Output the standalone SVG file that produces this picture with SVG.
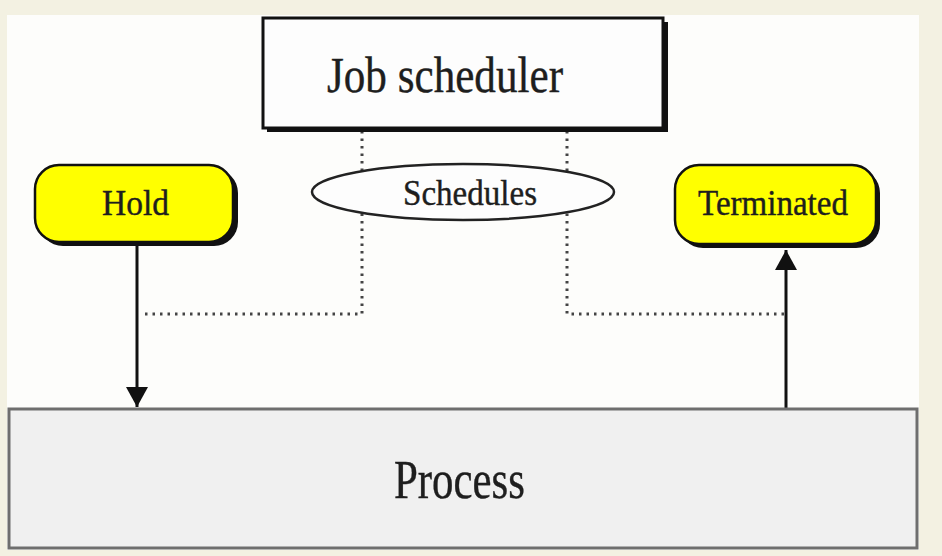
<svg xmlns="http://www.w3.org/2000/svg" width="942" height="556" viewBox="0 0 942 556">
  <defs>
    <marker id="arrow" viewBox="0 0 20 22" refX="20" refY="11" markerWidth="20" markerHeight="22" markerUnits="userSpaceOnUse" orient="auto">
      <path d="M0,0 L20,11 L0,22 Z" fill="#111"/>
    </marker>
  </defs>
  <style>
    .lbl { font-family: "Liberation Serif", "Times New Roman", serif; fill: #1e1e1e; stroke: #1e1e1e; stroke-width: 0.4; text-anchor: start; }
    .shadow { fill: #111; }
    .state { fill: #ffff00; stroke: #111; stroke-width: 2.5; }
    .dots { fill: none; stroke: #444; stroke-width: 3; stroke-dasharray: 2.5 5; }
    .flow { fill: none; stroke: #111; stroke-width: 3; marker-end: url(#arrow); }
  </style>

  <!-- page background and white panel -->
  <rect x="0" y="0" width="942" height="556" fill="#f3f1e2"/>
  <rect x="7" y="15" width="912" height="535" fill="#fdfdfb"/>

  <!-- dotted scheduling lines and state arrows -->
  <g id="connectors">
    <polyline class="dots" points="362,131 362,314 143,314"/>
    <polyline class="dots" points="567,131 567,314 786,314"/>
    <line class="flow" x1="137" y1="246" x2="137" y2="407"/>
    <line class="flow" x1="786" y1="409" x2="786" y2="250"/>
  </g>

  <g id="job-scheduler">
    <rect class="shadow" x="267" y="22" width="401" height="110"/>
    <rect x="263" y="18" width="400" height="110" fill="#fdfdfd" stroke="#111" stroke-width="3"/>
    <text class="lbl" x="327" y="92" font-size="51" textLength="236" lengthAdjust="spacingAndGlyphs">Job scheduler</text>
  </g>

  <g id="schedules">
    <ellipse cx="463" cy="192" rx="151" ry="28" fill="#fdfdfd" stroke="#222" stroke-width="2.5"/>
    <text class="lbl" x="403" y="205" font-size="36" textLength="134" lengthAdjust="spacingAndGlyphs">Schedules</text>
  </g>

  <g id="hold">
    <rect class="shadow" x="39" y="169" width="199" height="77" rx="24"/>
    <rect class="state" x="35" y="165" width="198" height="77" rx="24"/>
    <text class="lbl" x="102" y="215" font-size="36" textLength="67" lengthAdjust="spacingAndGlyphs">Hold</text>
  </g>

  <g id="terminated">
    <rect class="shadow" x="679" y="169" width="201" height="79" rx="24"/>
    <rect class="state" x="675" y="165" width="201" height="79" rx="24"/>
    <text class="lbl" x="698" y="215" font-size="35" textLength="150" lengthAdjust="spacingAndGlyphs">Terminated</text>
  </g>

  <g id="process">
    <rect x="9" y="409" width="908" height="139" fill="#f0f0f0" stroke="#6e6e6e" stroke-width="3"/>
    <text class="lbl" x="394" y="498" font-size="54" textLength="131" lengthAdjust="spacingAndGlyphs">Process</text>
  </g>
</svg>
